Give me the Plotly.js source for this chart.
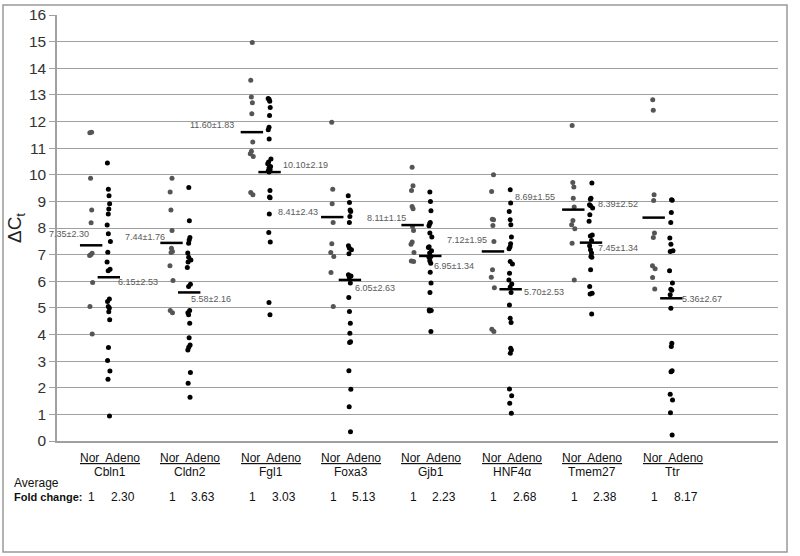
<!DOCTYPE html>
<html>
<head>
<meta charset="utf-8">
<script src="https://cdn.plot.ly/plotly-3.0.1.min.js"></script>
<style>
  body { margin: 0; background: #fff; }
  #chart { width: 800px; height: 556px; }
</style>
</head>
<body>
<div id="chart"></div>
<script>
// genes and fold changes
var genes = ['Cbln1', 'Cldn2', 'Fgl1', 'Foxa3', 'Gjb1', 'HNF4\u03b1', 'Tmem27', 'Ttr'];
var foldChange = ['2.30', '3.63', '3.03', '5.13', '2.23', '2.68', '2.38', '8.17'];

// mean and SD printed next to each group
var norMean = [7.35, 7.44, 11.60, 8.41, 8.11, 7.12, 8.69, 8.39];
var norSd = [2.30, 1.76, 1.83, 2.43, 1.15, 1.95, 1.55, 2.52];
var adenoMean = [6.15, 5.58, 10.10, 6.05, 6.95, 5.70, 7.45, 5.36];
var adenoSd = [2.53, 2.16, 2.19, 2.63, 1.34, 2.53, 1.34, 2.67];

// individual delta Ct values (estimated from the dots)
var cbln1Nor = [11.6, 11.58, 9.87, 8.68, 8.2, 7.05, 7.0, 6.97, 5.95, 5.05, 4.02];
var cbln1Adeno = [10.44, 9.46, 9.21, 8.91, 8.71, 8.53, 8.11, 7.78, 7.49, 7.09, 6.72, 6.45, 6.39, 5.33, 5.24, 5.05, 5.0, 4.85, 4.55, 3.51, 3.02, 2.63, 2.32, 0.94];
var cldn2Nor = [9.87, 9.35, 8.68, 7.91, 7.24, 7.12, 7.08, 6.58, 6.03, 4.9, 4.82];
var cldn2Adeno = [9.52, 8.27, 7.64, 7.55, 7.43, 7.06, 6.9, 6.8, 6.72, 6.52, 5.89, 5.8, 4.9, 4.82, 4.74, 4.42, 3.88, 3.61, 3.52, 3.42, 2.57, 2.17, 1.64];
var fgl1Nor = [14.97, 13.55, 12.92, 12.7, 12.29, 11.23, 10.88, 10.79, 10.69, 9.33, 9.25];
var fgl1Adeno = [12.86, 12.84, 12.76, 12.53, 12.23, 11.78, 11.69, 11.34, 10.59, 10.48, 10.41, 10.31, 10.25, 10.19, 10.15, 10.1, 9.41, 9.16, 9.14, 8.53, 7.83, 7.47, 5.2, 4.74];
var foxa3Nor = [11.97, 9.46, 8.91, 8.21, 7.41, 7.08, 6.93, 6.33, 5.05];
var foxa3Adeno = [9.21, 8.96, 8.68, 8.62, 8.43, 8.21, 7.33, 7.24, 7.18, 7.03, 6.24, 6.2, 6.15, 5.93, 5.39, 4.86, 4.42, 4.05, 3.73, 3.7, 2.64, 1.94, 1.29, 0.35];
var gjb1Nor = [10.28, 9.59, 9.41, 8.81, 8.72, 8.06, 7.91, 7.47, 7.39, 7.08, 6.76, 6.74];
var gjb1Adeno = [9.35, 9.0, 8.65, 8.21, 8.17, 8.08, 7.81, 7.66, 7.3, 7.27, 7.15, 7.06, 6.93, 6.9, 6.77, 6.68, 6.34, 5.93, 5.58, 4.92, 4.9, 4.88, 4.11];
var hnf4aNor = [10.0, 9.37, 8.33, 8.31, 8.09, 7.49, 6.43, 6.15, 5.76, 4.2, 4.11];
var hnf4aAdeno = [9.44, 8.94, 8.62, 8.31, 8.12, 7.66, 7.41, 7.3, 7.22, 6.74, 6.65, 6.3, 6.05, 5.9, 5.78, 5.58, 5.11, 4.61, 4.45, 3.48, 3.42, 3.3, 1.95, 1.7, 1.42, 1.04];
var tmem27Nor = [11.85, 9.71, 9.54, 9.12, 8.79, 8.28, 8.12, 7.97, 7.43, 6.05];
var tmem27Adeno = [9.69, 9.12, 9.08, 8.87, 8.84, 8.75, 8.5, 8.25, 7.74, 7.7, 7.53, 7.33, 7.18, 7.06, 6.93, 6.9, 6.43, 5.8, 5.55, 5.52, 4.77];
var ttrNor = [12.82, 12.42, 9.25, 9.03, 7.81, 7.64, 6.58, 6.47, 6.14, 5.71];
var ttrAdeno = [9.06, 9.04, 8.58, 8.21, 7.62, 7.39, 7.15, 7.12, 6.39, 5.93, 5.7, 5.66, 5.49, 4.99, 3.67, 3.55, 2.64, 2.6, 1.76, 1.54, 1.06, 0.23];

var norSets = [cbln1Nor, cldn2Nor, fgl1Nor, foxa3Nor, gjb1Nor, hnf4aNor, tmem27Nor, ttrNor];
var adenoSets = [cbln1Adeno, cldn2Adeno, fgl1Adeno, foxa3Adeno, gjb1Adeno, hnf4aAdeno, tmem27Adeno, ttrAdeno];

var off = 0.11;
var genePos = genes.map(function (g, i) { return i + 1; });
var norPos = genePos.map(function (p) { return p - off; });
var adenoPos = genePos.map(function (p) { return p + off; });

var data = [];

// dots, jittered a little by plotly's box points
function dots(vals, x, color) {
  return {
    type: 'box',
    y: vals,
    x0: x,
    width: 0.1,
    boxpoints: 'all',
    jitter: 0.5,
    pointpos: 0,
    fillcolor: 'rgba(0,0,0,0)',
    line: { width: 0, color: 'rgba(0,0,0,0)' },
    marker: { color: color, size: 5 },
    hoverinfo: 'y',
    showlegend: false
  };
}
for (var i = 0; i < genes.length; i++) {
  data.push(dots(norSets[i], norPos[i], '#555555'));
  data.push(dots(adenoSets[i], adenoPos[i], '#000000'));
}

// mean dashes
data.push({
  type: 'scatter',
  mode: 'markers',
  x: norPos.concat(adenoPos),
  y: norMean.concat(adenoMean),
  marker: { symbol: 'line-ew', size: 16, line: { width: 2.5, color: '#000' } },
  hoverinfo: 'y',
  showlegend: false
});

// label offsets in px (x, y) relative to the dash
var norShift = [[0, 11], [-5, 6], [-16, 7], [-12, 5], [-5, 7], [-4, 11], [-16, 13], [-14, 14]];
var adenoShift = [[7, -5], [0, -7], [11, 7], [3, -8], [2, -10], [11, -3], [5, -5], [9, -1]];

var labelFont = { family: 'Liberation Sans, Arial, sans-serif', size: 9, color: '#595959' };
var textFont = { family: 'Liberation Sans, Arial, sans-serif', size: 12, color: '#111' };

// px helpers for text below the axis
var plotTop = 15, plotBottom = 441, plotLeft = 57, plotRight = 778;
function py(p) { return (plotBottom - p) / (plotBottom - plotTop); }
function px(p) { return (p - plotLeft) / (plotRight - plotLeft); }

var annotations = [];
for (var j = 0; j < genes.length; j++) {
  annotations.push({
    x: norPos[j], y: norMean[j], xref: 'x', yref: 'y',
    text: norMean[j].toFixed(2) + '\u00b1' + norSd[j].toFixed(2),
    showarrow: false, xanchor: 'right', yanchor: 'middle',
    xshift: norShift[j][0], yshift: norShift[j][1], font: labelFont
  });
  annotations.push({
    x: adenoPos[j], y: adenoMean[j], xref: 'x', yref: 'y',
    text: adenoMean[j].toFixed(2) + '\u00b1' + adenoSd[j].toFixed(2),
    showarrow: false, xanchor: 'left', yanchor: 'middle',
    xshift: adenoShift[j][0], yshift: adenoShift[j][1], font: labelFont
  });
  annotations.push({
    x: genePos[j], y: py(458), xref: 'x', yref: 'paper', yanchor: 'middle',
    text: '<u>Nor  Adeno</u>', showarrow: false, xshift: 10, font: textFont
  });
  annotations.push({
    x: genePos[j], y: py(472), xref: 'x', yref: 'paper', yanchor: 'middle',
    text: genes[j], showarrow: false, xshift: 10, font: textFont
  });
  annotations.push({
    x: genePos[j], y: py(497), xref: 'x', yref: 'paper', yanchor: 'middle',
    text: '1', showarrow: false, xshift: -8, font: textFont
  });
  annotations.push({
    x: genePos[j], y: py(497), xref: 'x', yref: 'paper', yanchor: 'middle',
    text: foldChange[j], showarrow: false, xshift: 23, font: textFont
  });
}
annotations.push({
  x: px(12), y: py(483), xref: 'paper', yref: 'paper', xanchor: 'left', yanchor: 'middle',
  text: 'Average', showarrow: false, font: textFont
});
annotations.push({
  x: px(12), y: py(497), xref: 'paper', yref: 'paper', xanchor: 'left', yanchor: 'middle',
  text: '<b>Fold change:</b>', showarrow: false,
  font: { family: 'Liberation Sans, Arial, sans-serif', size: 11, color: '#111' }
});

var layout = {
  width: 800,
  height: 556,
  margin: { l: 57, r: 22, t: 15, b: 115 },
  paper_bgcolor: '#fff',
  plot_bgcolor: '#fff',
  showlegend: false,
  xaxis: {
    range: [0.465, 9.437],
    showgrid: false, zeroline: false, showticklabels: false,
    showline: true, linecolor: '#a0a0a0', linewidth: 1.5, ticks: ''
  },
  yaxis: {
    range: [0, 16], tick0: 0, dtick: 1,
    gridcolor: '#a0a0a0', gridwidth: 1.3, zeroline: false,
    showline: true, linecolor: '#a0a0a0', linewidth: 1.5,
    ticks: 'outside', ticklen: 6, tickcolor: '#a0a0a0',
    tickfont: { family: 'Liberation Sans, Arial, sans-serif', size: 15.5, color: '#333' },
    title: { text: '\u0394C<sub>t</sub>', font: { family: 'Liberation Sans, Arial, sans-serif', size: 19, color: '#222' }, standoff: 2 }
  },
  annotations: annotations,
  shapes: [{
    type: 'rect', xref: 'paper', yref: 'paper',
    x0: px(3), x1: px(787), y0: py(552), y1: py(5),
    line: { color: '#999', width: 1.5 }
  }]
};

Plotly.newPlot('chart', data, layout, { displayModeBar: false });
</script>
</body>
</html>
